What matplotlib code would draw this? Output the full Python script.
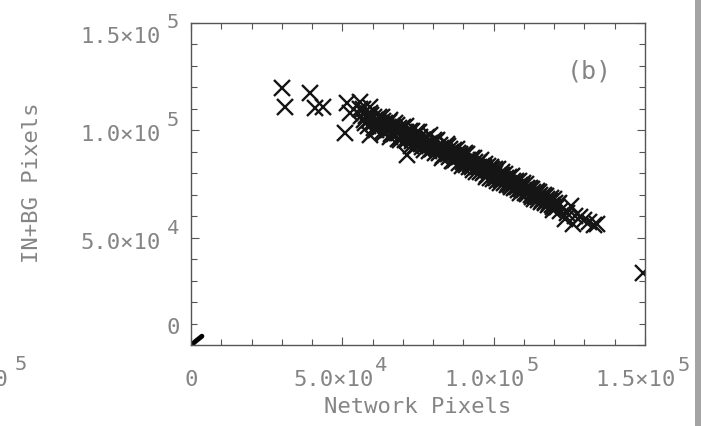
import matplotlib
matplotlib.use("Agg")
import matplotlib.pyplot as plt
from matplotlib.ticker import MultipleLocator
from matplotlib.patches import Rectangle

# ---------------- data ----------------
network_pixels = [
    30000, 31000, 39300, 41000, 43600, 51500, 50800, 55800, 59000, 52500, 59000, 71300,
    56000, 57000, 57800, 58500, 59200, 60000, 60600, 61200, 61800, 62500,
    63000, 63600, 64200, 64800, 65300, 65900, 66400, 67000, 67500, 68100,
    68700, 69200, 69800, 70300, 70900, 71400, 72000, 72600, 73100, 73700,
    74300, 74800, 75400, 76000, 76500, 77100, 77700, 78200, 78800, 79400,
    79900, 80500, 81100, 81600, 82200, 82800, 83300, 83900, 84500, 85000,
    85600, 86200, 86700, 87300, 87900, 88400, 89000, 89600, 90100, 90700,
    91300, 91800, 92400, 93000, 93500, 94100, 94700, 95200, 95800, 96400,
    96900, 97500, 98100, 98600, 99200, 99800, 100300, 100900, 101500, 102000,
    102600, 103200, 103700, 104300, 104900, 105400, 106000, 106600, 107100, 107700,
    108300, 108800, 109400, 110000, 110600, 111100, 111700, 112300, 112800, 113400,
    114000, 114500, 115100, 115700, 116200, 116800, 117400, 118000, 118600, 119200,
    119800, 120500, 121200, 122000,
    56300, 56900, 57600, 58200, 58900, 59600, 60300, 60900, 61500, 62100,
    62800, 63400, 63900, 64500, 65100, 65600, 66200, 66800, 67300, 67900,
    68400, 69000, 69500, 70100, 70600, 71200, 71700, 72300, 72900, 73400,
    74000, 74600, 75100, 75700, 76300, 76800, 77400, 78000, 78500, 79100,
    79700, 80200, 80800, 81400, 81900, 82500, 83100, 83600, 84200, 84800,
    85300, 85900, 86500, 87000, 87600, 88200, 88700, 89300, 89900, 90400,
    91000, 91600, 92100, 92700, 93300, 93800, 94400, 95000, 95500, 96100,
    96700, 97200, 97800, 98400, 98900, 99500, 100100, 100600, 101200, 101800,
    102300, 102900, 103500, 104000, 104600, 105200, 105700, 106300, 106900, 107400,
    108000, 108600, 109100, 109700, 110300, 110900, 111400, 112000, 112600, 113100,
    113700, 114300, 114800, 115400, 116000, 116500, 117100, 117700, 118300, 118900,
    119500, 120200, 120900, 121600,
    119500, 123500, 124100, 125700, 126100, 127000, 128400, 130000, 131500, 133300, 134000,
    149500,
]
in_bg_pixels = [
    119800, 111000, 117400, 110400, 111000, 112800, 98800, 113200, 111000, 108000, 97900, 88500,
    109800, 104600, 106800, 102100, 108300, 103300, 106000, 100000, 103800, 101500,
    106300, 99500, 103200, 101000, 103900, 97100, 101000, 98400, 103300, 98800,
    100900, 95700, 100800, 97300, 102000, 95300, 98100, 92900, 99700, 96000,
    97600, 93000, 99000, 93600, 95500, 91000, 96600, 93700, 97600, 91100,
    94100, 89600, 95000, 91300, 93400, 87300, 91300, 88700, 93600, 88800,
    91500, 85800, 89700, 86000, 91200, 87600, 88800, 83300, 89100, 85400,
    88900, 82900, 85700, 83100, 87200, 80800, 84700, 82900, 86200, 80100,
    82800, 78200, 83400, 79700, 83100, 77200, 80200, 77600, 81900, 75600,
    79400, 77200, 79600, 74400, 77400, 74700, 78500, 73200, 75300, 73500,
    76200, 71000, 74700, 72400, 74900, 70200, 72500, 69800, 72800, 68100,
    70600, 68900, 71400, 66800, 69300, 66700, 69400, 65400, 67300, 65400,
    67900, 64200, 65700, 62400,
    106500, 110100, 103300, 107200, 104600, 107300, 101300, 104900, 101600, 106300,
    102400, 104200, 98900, 102200, 100000, 104800, 98300, 101500, 99600, 102300,
    96000, 99700, 97100, 101400, 95300, 99100, 97000, 99800, 94900, 96800,
    92600, 99200, 94500, 97100, 92400, 95300, 93400, 96900, 90500, 94100,
    91500, 95300, 91800, 95600, 89400, 92000, 88100, 92300, 89500, 92600,
    87500, 89700, 85700, 90900, 87100, 89600, 84800, 87900, 85400, 89400,
    83700, 86000, 84100, 87300, 81500, 85100, 83100, 85400, 80600, 83300,
    80800, 84300, 79400, 81300, 77700, 81800, 79000, 81800, 76600, 79300,
    76900, 80500, 75300, 77600, 75600, 78400, 73400, 76500, 73600, 76600,
    72000, 74500, 72600, 75300, 70700, 73200, 70700, 73100, 69000, 71100,
    69300, 71700, 67600, 69700, 67600, 69900, 66200, 68000, 66300, 68300,
    64500, 66200, 64200, 66000,
    62900, 58500, 61500, 64600, 56200, 60300, 59600, 58000, 57200, 56000, 56300,
    33500,
]
# small cluster of points at the origin
origin_x = [0, 1000, 2000, 3000, 3600]
origin_y = [0, 1100, 2300, 3400, 4100]

xtick_values = [0, 50000, 100000, 150000]
xtick_base = ["0", "5.0×10", "1.0×10", "1.5×10"]
xtick_exp = ["", "4", "5", "5"]
ytick_values = [0, 50000, 100000, 150000]
ytick_base = ["0", "5.0×10", "1.0×10", "1.5×10"]
ytick_exp = ["", "4", "5", "5"]

x_label = "Network Pixels"
y_label = "IN+BG Pixels"
panel_label = "(b)"

# ---------------- figure ----------------
W, H = 701, 426
fig = plt.figure(figsize=(W / 100, H / 100), dpi=100)
fig.patch.set_facecolor("white")

ax_l, ax_r, ax_t, ax_b = 191, 645, 23, 345
ax = fig.add_axes([ax_l / W, 1 - ax_b / H, (ax_r - ax_l) / W, (ax_b - ax_t) / H])
ax.set_xlim(0, 150000)
ax.set_ylim(0, 150000)

txt_color = "#858585"
line_color = "#555555"
font = "DejaVu Sans Mono"
fs = 16

ax.plot(network_pixels, in_bg_pixels, linestyle="none", marker="x", ms=12,
        mew=1.7, color="#151515")
ax.plot(origin_x, origin_y, "-", color="black", lw=3.5, solid_capstyle="round")

for s in ax.spines.values():
    s.set_color(line_color)
    s.set_linewidth(1.0)

ax.xaxis.set_major_locator(MultipleLocator(50000))
ax.yaxis.set_major_locator(MultipleLocator(50000))
ax.xaxis.set_minor_locator(MultipleLocator(10000))
ax.yaxis.set_minor_locator(MultipleLocator(10000))
ax.tick_params(which="both", direction="in", top=True, right=True,
               labelbottom=False, labelleft=False, color=line_color, width=0.8)
ax.tick_params(which="major", length=6.0)
ax.tick_params(which="minor", length=4.0)

# x tick labels (base + raised exponent)
for v, b, e in zip(xtick_values, xtick_base, xtick_exp):
    if e:
        ax.annotate(b, xy=(v, 0), xycoords=("data", "axes fraction"),
                    xytext=(-9, -41), textcoords="offset pixels", ha="center",
                    va="baseline", fontsize=fs, family=font, color=txt_color,
                    annotation_clip=False)
        ax.annotate(e, xy=(v, 0), xycoords=("data", "axes fraction"),
                    xytext=(33, -26), textcoords="offset pixels", ha="left",
                    va="baseline", fontsize=fs * 0.92, family=font, color=txt_color,
                    annotation_clip=False)
    else:
        ax.annotate(b, xy=(v, 0), xycoords=("data", "axes fraction"),
                    xytext=(0, -41), textcoords="offset pixels", ha="center",
                    va="baseline", fontsize=fs, family=font, color=txt_color,
                    annotation_clip=False)

# y tick labels
y_nudge = [11, 0, 0, -9]
for v, b, e, n in zip(ytick_values, ytick_base, ytick_exp, y_nudge):
    if e:
        ax.annotate(b, xy=(0, v), xycoords=("axes fraction", "data"),
                    xytext=(-30, -11 + n), textcoords="offset pixels", ha="right",
                    va="baseline", fontsize=fs, family=font, color=txt_color,
                    annotation_clip=False)
        ax.annotate(e, xy=(0, v), xycoords=("axes fraction", "data"),
                    xytext=(-24, 4 + n), textcoords="offset pixels", ha="left",
                    va="baseline", fontsize=fs * 0.92, family=font, color=txt_color,
                    annotation_clip=False)
    else:
        ax.annotate(b, xy=(0, v), xycoords=("axes fraction", "data"),
                    xytext=(-11, 0 + n), textcoords="offset pixels", ha="right",
                    va="baseline", fontsize=fs, family=font, color=txt_color,
                    annotation_clip=False)

# axis titles
fig.text(418 / W, 1 - 407 / H, x_label, ha="center", va="center", fontsize=fs,
         family=font, color=txt_color)
fig.text(32 / W, 1 - 183 / H, y_label, ha="center", va="center", rotation=90,
         fontsize=fs, family=font, color=txt_color)
# panel label
fig.text(589 / W, 1 - 72 / H, panel_label, ha="center", va="center", fontsize=fs + 2,
         family=font, color=txt_color)

# fragment of neighbouring panel's tick label at the left edge
fig.text(8 / W, 1 - 386 / H, "10", ha="right", va="baseline", fontsize=fs,
         family=font, color=txt_color)
fig.text(15 / W, 1 - 370 / H, "5", ha="left", va="baseline", fontsize=fs * 0.92,
         family=font, color=txt_color)

# grey strip at the right edge of the scan
fig.add_artist(Rectangle((695 / W, 0), 6 / W, 1, transform=fig.transFigure,
                         facecolor="#a4a4a4", edgecolor="none", zorder=20))

fig.savefig("out.png", dpi=100, facecolor="white")
